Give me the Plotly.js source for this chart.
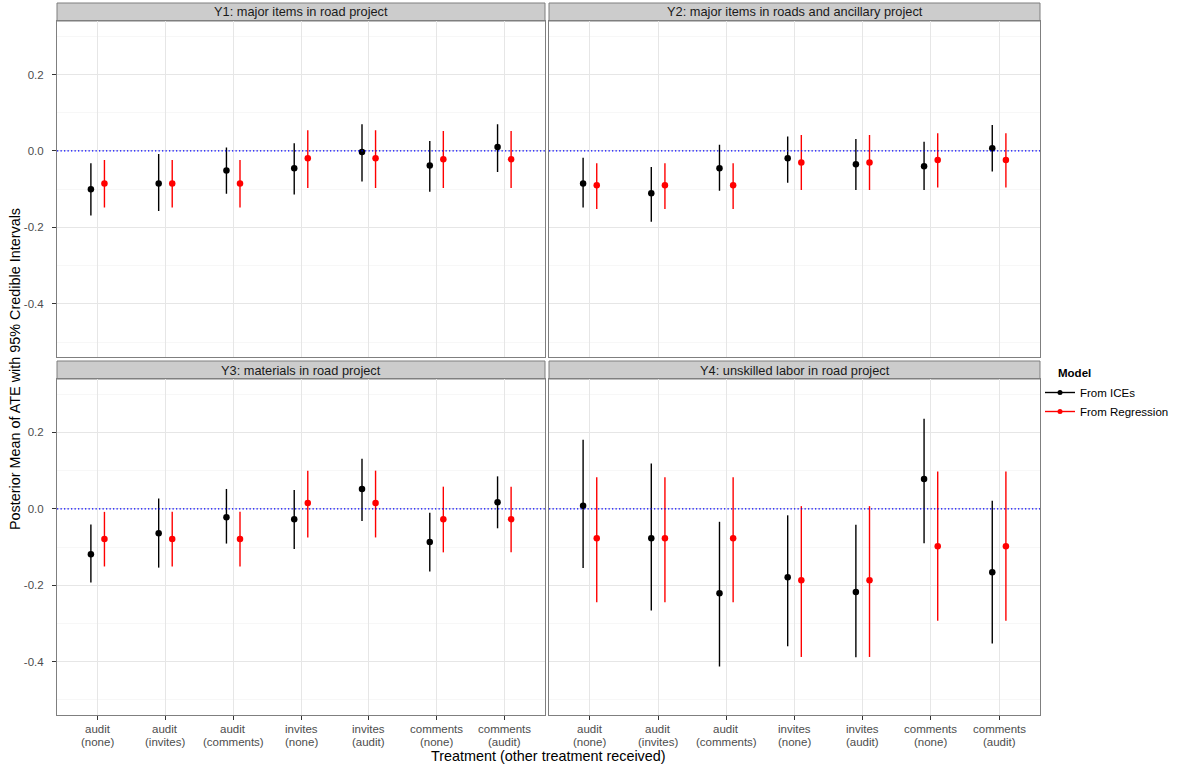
<!DOCTYPE html>
<html>
<head>
<meta charset="utf-8">
<script src="https://cdn.plot.ly/plotly-3.0.1.min.js"></script>
<style>html,body{margin:0;padding:0;background:#fff}#chart{width:1180px;height:767px}</style>
</head>
<body>
<div id="chart"></div>
<script>
// ---------- data ----------
const categoryTop    = ["audit", "audit", "audit", "invites", "invites", "comments", "comments"];
const categoryBottom = ["(none)", "(invites)", "(comments)", "(none)", "(audit)", "(none)", "(audit)"];
const panelTitles = ["Y1: major items in road project", "Y2: major items in roads and ancillary project", "Y3: materials in road project", "Y4: unskilled labor in road project"];
const modelNames = ["From ICEs", "From Regression"];
const yTickVals = [-0.4, -0.2, 0, 0.2];
const yTickText = ["-0.4", "-0.2", "0.0", "0.2"];

// Y1
const y1IceMean = [-0.100, -0.085, -0.051, -0.045, -0.003, -0.038, 0.010];
const y1IceLo   = [-0.169, -0.157, -0.112, -0.114, -0.080, -0.107, -0.055];
const y1IceHi   = [-0.032, -0.008, 0.009, 0.020, 0.070, 0.026, 0.070];
const y1RegMean = [-0.085, -0.085, -0.085, -0.019, -0.019, -0.022, -0.022];
const y1RegLo   = [-0.148, -0.148, -0.148, -0.097, -0.097, -0.097, -0.097];
const y1RegHi   = [-0.024, -0.024, -0.024, 0.054, 0.054, 0.052, 0.052];
// Y2
const y2IceMean = [-0.085, -0.111, -0.045, -0.019, -0.035, -0.040, 0.007];
const y2IceLo   = [-0.148, -0.185, -0.104, -0.083, -0.102, -0.102, -0.054];
const y2IceHi   = [-0.018, -0.042, 0.016, 0.038, 0.031, 0.024, 0.068];
const y2RegMean = [-0.090, -0.090, -0.090, -0.030, -0.030, -0.024, -0.024];
const y2RegLo   = [-0.152, -0.152, -0.152, -0.102, -0.102, -0.096, -0.096];
const y2RegHi   = [-0.032, -0.032, -0.032, 0.042, 0.042, 0.046, 0.046];
// Y3
const y3IceMean = [-0.119, -0.064, -0.022, -0.027, 0.052, -0.087, 0.017];
const y3IceLo   = [-0.193, -0.154, -0.091, -0.105, -0.032, -0.164, -0.051];
const y3IceHi   = [-0.041, 0.027, 0.052, 0.049, 0.131, -0.010, 0.085];
const y3RegMean = [-0.079, -0.079, -0.079, 0.015, 0.015, -0.027, -0.027];
const y3RegLo   = [-0.151, -0.151, -0.151, -0.075, -0.075, -0.114, -0.114];
const y3RegHi   = [-0.008, -0.008, -0.008, 0.100, 0.100, 0.058, 0.058];
// Y4
const y4IceMean = [0.008, -0.077, -0.221, -0.179, -0.218, 0.078, -0.166];
const y4IceLo   = [-0.155, -0.266, -0.413, -0.360, -0.389, -0.090, -0.353];
const y4IceHi   = [0.181, 0.119, -0.034, -0.017, -0.042, 0.236, 0.021];
const y4RegMean = [-0.077, -0.077, -0.077, -0.187, -0.187, -0.098, -0.098];
const y4RegLo   = [-0.245, -0.245, -0.245, -0.388, -0.388, -0.293, -0.293];
const y4RegHi   = [0.083, 0.083, 0.083, 0.007, 0.007, 0.098, 0.098];

const panelData = [
  [[y1IceMean, y1IceLo, y1IceHi], [y1RegMean, y1RegLo, y1RegHi]],
  [[y2IceMean, y2IceLo, y2IceHi], [y2RegMean, y2RegLo, y2RegHi]],
  [[y3IceMean, y3IceLo, y3IceHi], [y3RegMean, y3RegLo, y3RegHi]],
  [[y4IceMean, y4IceLo, y4IceHi], [y4RegMean, y4RegLo, y4RegHi]]
];

// ---------- styling ----------
const colors = ["#000000", "#ff0000"];
const dodge = [-0.1, 0.1];
const FONT = "Liberation Sans, Arial, Helvetica, sans-serif";
const catPos = categoryTop.map((c, i) => i + 1);

const traces = [];
panelData.forEach((pd, p) => {
  const ax = p === 0 ? "" : String(p + 1);
  pd.forEach((series, m) => {
    const [mean, lo, hi] = series;
    traces.push({
      type: "scatter", mode: "markers",
      x: catPos.map(v => v + dodge[m]), y: mean,
      xaxis: "x" + ax, yaxis: "y" + ax,
      marker: {color: colors[m], size: 6.5},
      error_y: {type: "data", symmetric: false,
        array: mean.map((v, i) => hi[i] - v),
        arrayminus: mean.map((v, i) => v - lo[i]),
        color: colors[m], thickness: 1.4, width: 0},
      name: modelNames[m], showlegend: false, hoverinfo: "y"
    });
  });
});
// legend entries
modelNames.forEach((n, m) => {
  traces.push({type: "scatter", mode: "lines+markers", x: [null], y: [null],
    name: n, line: {color: colors[m], width: 1.4}, marker: {color: colors[m], size: 5},
    showlegend: true, xaxis: "x", yaxis: "y"});
});

const H = 767, W = 1180;
const mL = 57, mR = 140, mT = 3, mB = 52;
const pw = W - mL - mR, ph = H - mT - mB;
const px2x = v => (v - mL) / pw;
const py2y = v => (H - mB - v) / ph;

const xDomL = [0, px2x(545)], xDomR = [px2x(549), 1];
const yDomT = [py2y(357.3), py2y(21)], yDomB = [0, py2y(379)];
const stripT = [py2y(21), 1], stripB = [py2y(379), py2y(361)];

const yRange = [-0.54, 0.34];
const xRange = [0.4, 7.6];

function xaxis(dom, anchor, showTicks) {
  return {domain: dom, anchor: anchor, range: xRange, tickvals: catPos,
    showticklabels: false,
    ticks: showTicks ? "outside" : "", ticklen: 4, tickcolor: "#333333", tickwidth: 1,
    showgrid: true, gridcolor: "#e6e6e6", gridwidth: 1, zeroline: false,
    showline: true, mirror: true, linecolor: "#7f7f7f", linewidth: 1, fixedrange: true};
}
function yaxis(dom, anchor, showLabels) {
  return {domain: dom, anchor: anchor, range: yRange, tickvals: yTickVals,
    ticktext: yTickText, showticklabels: showLabels, ticklabelstandoff: 6,
    ticks: showLabels ? "outside" : "", ticklen: 4, tickcolor: "#333333", tickwidth: 1,
    showgrid: true, gridcolor: "#e6e6e6", gridwidth: 1, zeroline: false,
    minor: {tickvals: [-0.5, -0.3, -0.1, 0.1, 0.3], showgrid: true, gridcolor: "#f7f7f7", gridwidth: 1, ticks: ""},
    showline: true, mirror: true, linecolor: "#7f7f7f", linewidth: 1,
    tickfont: {family: FONT, size: 11.5, color: "#4d4d4d"}, fixedrange: true};
}

const shapes = [];
const annotations = [];
const stripDefs = [[xDomL, stripT], [xDomR, stripT], [xDomL, stripB], [xDomR, stripB]];
stripDefs.forEach(([xd, yd], p) => {
  shapes.push({type: "rect", xref: "paper", yref: "paper", x0: xd[0], x1: xd[1], y0: yd[0], y1: yd[1],
    fillcolor: "#cccccc", line: {color: "#7f7f7f", width: 1}, layer: "below"});
  annotations.push({xref: "paper", yref: "paper", x: (xd[0] + xd[1]) / 2, y: (yd[0] + yd[1]) / 2,
    text: panelTitles[p], showarrow: false, xanchor: "center", yanchor: "middle",
    font: {family: FONT, size: 12.8, color: "#1a1a1a"}});
  const ax = p === 0 ? "" : String(p + 1);
  shapes.push({type: "line", xref: "x" + ax + " domain", yref: "y" + ax, x0: 0, x1: 1, y0: 0, y1: 0,
    line: {color: "#0000ff", width: 1.2, dash: "1.3px,2.2px"}});
});

// two-line category labels below bottom panels
["x3", "x4"].forEach(xr => {
  catPos.forEach((c, i) => {
    annotations.push({xref: xr, yref: "paper", x: c, y: py2y(729), text: categoryTop[i],
      showarrow: false, xanchor: "center", yanchor: "middle",
      font: {family: FONT, size: 11.5, color: "#4d4d4d"}});
    annotations.push({xref: xr, yref: "paper", x: c, y: py2y(741.5), text: categoryBottom[i],
      showarrow: false, xanchor: "center", yanchor: "middle",
      font: {family: FONT, size: 11.5, color: "#4d4d4d"}});
  });
});

annotations.push({xref: "paper", yref: "paper", x: px2x(548), y: py2y(755.5), text: "Treatment (other treatment received)",
  showarrow: false, xanchor: "center", yanchor: "middle", font: {family: FONT, size: 14.4, color: "#000"}});
annotations.push({xref: "paper", yref: "paper", x: px2x(15), y: py2y(369), text: "Posterior Mean of ATE with 95% Credible Intervals",
  showarrow: false, textangle: -90, xanchor: "center", yanchor: "middle", font: {family: FONT, size: 14.4, color: "#000"}});
annotations.push({xref: "paper", yref: "paper", x: px2x(1056), y: py2y(372.5), text: "<b>Model</b>",
  showarrow: false, xanchor: "left", yanchor: "middle", font: {family: FONT, size: 11.5, color: "#000"}});

const layout = {
  width: W, height: H, paper_bgcolor: "#fff", plot_bgcolor: "#fff",
  margin: {l: mL, r: mR, t: mT, b: mB},
  xaxis: xaxis(xDomL, "y", false), yaxis: yaxis(yDomT, "x", true),
  xaxis2: xaxis(xDomR, "y2", false), yaxis2: yaxis(yDomT, "x2", false),
  xaxis3: xaxis(xDomL, "y3", true), yaxis3: yaxis(yDomB, "x3", true),
  xaxis4: xaxis(xDomR, "y4", true), yaxis4: yaxis(yDomB, "x4", false),
  shapes: shapes, annotations: annotations,
  showlegend: true,
  legend: {x: px2x(1040), y: py2y(378), xanchor: "left", yanchor: "top",
    font: {family: FONT, size: 11.5, color: "#000"}, itemwidth: 30, tracegroupgap: 0,
    bgcolor: "rgba(0,0,0,0)"},
  font: {family: FONT}
};

Plotly.newPlot("chart", traces, layout, {displayModeBar: false, staticPlot: true});
</script>
</body>
</html>
